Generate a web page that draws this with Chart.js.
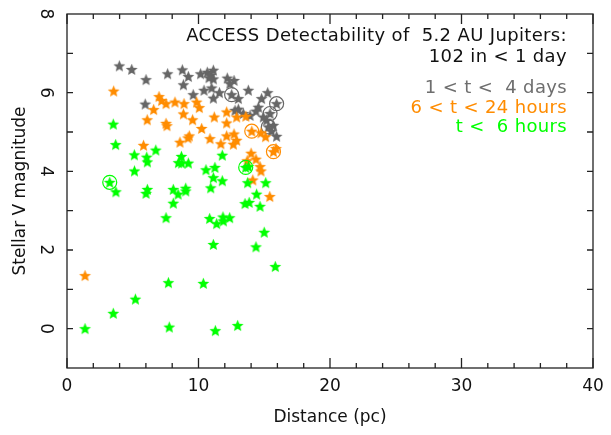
<!DOCTYPE html>
<html>
<head>
<meta charset="utf-8">
<script src="https://cdn.jsdelivr.net/npm/chart.js@4.4.1/dist/chart.umd.min.js"></script>
<style>
  html, body { margin: 0; padding: 0; background: #fff; }
  #wrap { width: 611px; height: 435px; }
</style>
</head>
<body>
<div id="wrap"><canvas id="accessChart" width="611" height="435"></canvas></div>
<script>
'use strict';

// distance (pc) and V magnitude
const grayX = [3.98, 4.92, 6.01, 7.65, 8.77, 9.23, 8.85, 9.6, 5.95, 10.16, 10.67, 11.13, 10.93, 11.13, 10.8,
    12.19, 12.7, 12.39, 10.42, 11.0, 11.59, 11.13, 12.52, 13.03, 13.79, 15.26, 14.8, 15.94, 14.55, 14.37,
    13.03, 13.41, 15.44, 15.18, 14.93, 13.92, 15.31, 15.69, 15.56, 15.94, 12.78];
const grayY = [6.68, 6.59, 6.33, 6.48, 6.58, 6.41, 6.2, 5.95, 5.71, 6.48, 6.52, 6.57, 6.44, 6.35, 6.38,
    6.37, 6.31, 6.23, 6.06, 6.12, 6.0, 5.86, 5.95, 5.85, 6.06, 6.0, 5.85, 5.72, 5.63, 5.53,
    5.58, 5.47, 5.47, 5.3, 5.38, 5.42, 5.13, 5.17, 5.02, 4.89, 5.55];

const orangeX = [1.37, 3.55, 7.0, 7.2, 7.53, 8.21, 8.9, 9.86, 10.06, 6.59, 8.85, 6.1, 7.53, 7.6, 9.55,
    11.2, 12.14, 12.9, 13.6, 12.14, 10.24, 9.3, 9.2, 8.59, 10.87, 12.14, 12.7, 12.9, 12.65, 11.7,
    5.82, 14.05, 14.75, 15.1, 15.7, 15.89, 14.0, 14.37, 13.7, 14.68, 14.75, 14.13, 15.42];
const orangeY = [1.35, 6.04, 5.9, 5.8, 5.72, 5.76, 5.72, 5.76, 5.62, 5.57, 5.46, 5.31, 5.22, 5.16, 5.31,
    5.38, 5.51, 5.38, 5.4, 5.23, 5.09, 4.9, 4.85, 4.74, 4.83, 4.9, 4.95, 4.79, 4.69, 4.7,
    4.66, 5.02, 4.98, 4.88, 4.5, 4.58, 4.46, 4.31, 4.27, 4.12, 4.01, 3.78, 3.36];

const greenX = [3.52, 3.7, 5.12, 6.06, 6.11, 6.75, 5.13, 8.7, 8.47, 8.72, 9.23, 11.81, 10.57, 11.25, 11.13,
    11.81, 10.93, 3.25, 3.72, 6.11, 6.01, 8.08, 8.45, 9.03, 9.03, 8.08, 7.53, 10.85, 11.38, 11.86,
    11.89, 12.37, 11.13, 13.59, 13.8, 13.74, 15.11, 14.42, 13.54, 13.85, 14.68, 15.0, 14.37, 15.84,
    7.71, 10.37, 5.2, 3.52, 1.37, 7.78, 11.28, 12.98];
const greenY = [5.2, 4.68, 4.42, 4.36, 4.24, 4.54, 4.01, 4.38, 4.22, 4.21, 4.21, 4.41, 4.04, 4.1, 3.84,
    3.76, 3.58, 3.72, 3.48, 3.54, 3.44, 3.54, 3.42, 3.57, 3.5, 3.19, 2.82, 2.8, 2.67, 2.84,
    2.74, 2.82, 2.14, 4.1, 4.12, 3.71, 3.71, 3.42, 3.18, 3.21, 3.11, 2.45, 2.08, 1.58,
    1.17, 1.15, 0.75, 0.39, 0.0, 0.04, -0.05, 0.08];

// stars that carry an open circle
const grayCircX = [12.52, 15.94, 15.44, 15.31];
const grayCircY = [5.95, 5.72, 5.47, 5.13];
const orangeCircX = [14.05, 15.7];
const orangeCircY = [5.02, 4.5];
const greenCircX = [3.25, 13.59];
const greenCircY = [3.72, 4.1];

const xTicks = [0, 10, 20, 30, 40];
const yTicks = [0, 2, 4, 6, 8];
const xMinor = [0, 2, 4, 6, 8, 10, 12, 14, 16, 18, 20, 22, 24, 26, 28, 30, 32, 34, 36, 38, 40];
const yMinor = [0, 1, 2, 3, 4, 5, 6, 7];

const legendLines = [
    { text: 'ACCESS Detectability of  5.2 AU Jupiters:', color: '#111', y: 36 },
    { text: '102 in < 1 day', color: '#111', y: 57 },
    { text: '1 < t <  4 days', color: '#6e6e6e', y: 88 },
    { text: '6 < t < 24 hours', color: '#ff8c00', y: 108 },
    { text: 't <  6 hours', color: '#00ff00', y: 127 }
];

const FONT = '"DejaVu Sans", sans-serif';
const GRAY = '#666666';
const ORANGE = '#ff8c00';
const GREEN = '#00ff00';

function makeStar(color, r) {
    const c = document.createElement('canvas');
    const s = Math.ceil(2 * r + 2);
    c.width = s;
    c.height = s;
    const g = c.getContext('2d');
    const cx = s / 2, cy = s / 2 + 0.5, ri = r * 0.45;
    g.beginPath();
    for (let i = 0; i < 10; i++) {
        const rad = i % 2 === 0 ? r : ri;
        const a = -Math.PI / 2 + i * Math.PI / 5;
        const px = cx + rad * Math.cos(a), py = cy + rad * Math.sin(a);
        if (i === 0) g.moveTo(px, py); else g.lineTo(px, py);
    }
    g.closePath();
    g.fillStyle = color;
    g.fill();
    return c;
}

function pts(xs, ys) {
    return xs.map((x, i) => ({ x: x, y: ys[i] }));
}

function starSet(label, xs, ys, color, order) {
    return {
        label: label,
        data: pts(xs, ys),
        pointStyle: makeStar(color, 6.2),
        pointRadius: 6,
        showLine: false,
        order: order
    };
}

function circleSet(label, xs, ys, color, order) {
    return {
        label: label,
        data: pts(xs, ys),
        pointStyle: 'circle',
        pointRadius: 7,
        pointBorderWidth: 1.2,
        pointBorderColor: color,
        pointBackgroundColor: 'rgba(0,0,0,0)',
        showLine: false,
        order: order
    };
}

const frameTicks = {
    id: 'frameTicks',
    afterDatasetsDraw(chart) {
        const ctx = chart.ctx;
        const a = chart.chartArea;
        const sx = chart.scales.x, sy = chart.scales.y;
        ctx.save();
        ctx.strokeStyle = '#222';
        ctx.lineWidth = 1.3;
        ctx.strokeRect(a.left, a.top, a.right - a.left, a.bottom - a.top);
        ctx.beginPath();
        xMinor.forEach(v => {
            const px = sx.getPixelForValue(v);
            const len = v % 10 === 0 ? 10 : 5;
            ctx.moveTo(px, a.bottom); ctx.lineTo(px, a.bottom - len);
            ctx.moveTo(px, a.top); ctx.lineTo(px, a.top + len);
        });
        yMinor.forEach(v => {
            const py = sy.getPixelForValue(v);
            ctx.moveTo(a.left, py); ctx.lineTo(a.left + 6, py);
            ctx.moveTo(a.right, py); ctx.lineTo(a.right - 6, py);
        });
        ctx.stroke();
        ctx.restore();
    },
    afterDraw(chart) {
        const ctx = chart.ctx;
        ctx.save();
        ctx.font = '18px ' + FONT;
        ctx.letterSpacing = '0.35px';
        ctx.textAlign = 'right';
        ctx.textBaseline = 'middle';
        legendLines.forEach(l => {
            ctx.fillStyle = l.color;
            ctx.fillText(l.text, 567, l.y);
        });
        ctx.restore();
    }
};

new Chart(document.getElementById('accessChart'), {
    type: 'scatter',
    data: {
        datasets: [
            circleSet('green circled', greenCircX, greenCircY, GREEN, 0),
            starSet('t < 6 hours', greenX, greenY, GREEN, 1),
            circleSet('orange circled', orangeCircX, orangeCircY, ORANGE, 2),
            starSet('6 < t < 24 hours', orangeX, orangeY, ORANGE, 3),
            circleSet('gray circled', grayCircX, grayCircY, GRAY, 4),
            starSet('1 < t < 4 days', grayX, grayY, GRAY, 5)
        ]
    },
    options: {
        responsive: false,
        animation: false,
        layout: { padding: { top: 14, right: 18, left: 0, bottom: 0 } },
        plugins: {
            legend: { display: false },
            tooltip: { enabled: false }
        },
        scales: {
            x: {
                type: 'linear',
                min: 0,
                max: 40,
                afterBuildTicks: s => { s.ticks = xTicks.map(v => ({ value: v })); },
                afterFit: s => { s.height = 67; s.paddingLeft = 0; s.paddingRight = 0; },
                grid: { display: false },
                border: { display: false },
                ticks: { color: '#111', font: { family: FONT, size: 17 }, padding: 0, maxRotation: 0 },
                title: { display: true, text: 'Distance (pc)', color: '#111', font: { family: FONT, size: 17 }, padding: { top: 0, bottom: 7 } }
            },
            y: {
                type: 'linear',
                min: -1,
                max: 8,
                afterBuildTicks: s => { s.ticks = yTicks.map(v => ({ value: v })); },
                afterFit: s => { s.width = 67; s.paddingTop = 0; s.paddingBottom = 0; },
                grid: { display: false },
                border: { display: false },
                ticks: { color: '#111', font: { family: FONT, size: 17 }, padding: 8, minRotation: -90, maxRotation: -90, crossAlign: 'center' },
                title: { display: true, text: 'Stellar V magnitude', color: '#111', font: { family: FONT, size: 17 }, padding: { top: 10, bottom: 0 } }
            }
        }
    },
    plugins: [frameTicks]
});
</script>
</body>
</html>
